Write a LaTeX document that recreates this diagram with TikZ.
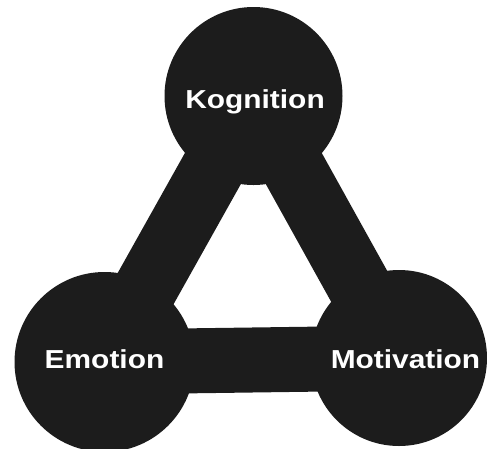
\documentclass[tikz,border=0pt]{standalone}
\usepackage{fontspec}
\setmainfont{Liberation Sans}
\usetikzlibrary{backgrounds}
\definecolor{ink}{RGB}{28,28,28}
\begin{document}
\begin{tikzpicture}[x=1pt,y=-1pt,
  blob/.style={circle,fill=ink,inner sep=0pt,minimum size=#1},
  bar/.style={draw=ink,line width=64pt},
  lbl/.style={text=white,inner sep=0pt,anchor=base,font=\fontsize{26}{30}\selectfont\bfseries}]
\useasboundingbox (0,0) rectangle (487,448);
\node[blob=178pt] (k) at (253.5,96) {};
\node[blob=180pt] (e) at (104.5,362) {};
\node[blob=176pt] (m) at (399,358) {};
\begin{scope}[on background layer]
\draw[bar] (k.center) -- (e.center);
\draw[bar] (k.center) -- (m.center);
\draw[bar,line width=65pt] (e.center) -- (m.center);
\end{scope}
\node[lbl] (kt) at (255,108) {\scalebox{1.15}[1]{Kognition}};
\node[lbl] (et) at (104.5,368) {\scalebox{1.15}[1]{Emotion}};
\node[lbl] (mt) at (405.5,368) {\scalebox{1.15}[1]{Motivation}};
\end{tikzpicture}
\end{document}
